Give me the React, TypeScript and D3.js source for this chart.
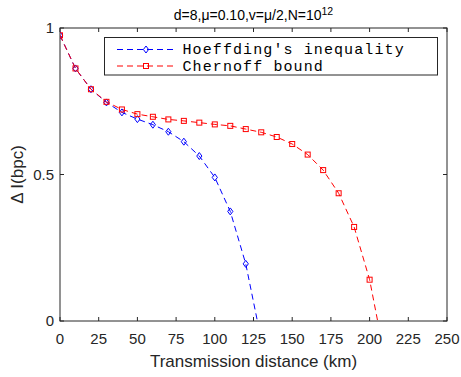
import { useEffect, useRef } from "react";
import * as d3 from "d3";

// distance (km) and ΔI (bpc)
const hoeffdingX = [0, 10, 20, 30, 40, 50, 60, 70, 80, 90, 100, 110, 120];
const hoeffdingY = [0.975, 0.862, 0.791, 0.746, 0.712, 0.689, 0.67, 0.646, 0.612, 0.563, 0.49, 0.374, 0.195];
const hoeffdingEnd = 127.5;

const chernoffX = [0, 10, 20, 30, 40, 50, 60, 70, 80, 90, 100, 110, 120, 130, 140, 150, 160, 170, 180, 190, 200];
const chernoffY = [0.975, 0.862, 0.791, 0.748, 0.722, 0.706, 0.697, 0.688, 0.683, 0.677, 0.671, 0.666, 0.655, 0.644, 0.628, 0.604, 0.568, 0.515, 0.436, 0.321, 0.141];
const chernoffEnd = 205.2;

const xTicks = [0, 25, 50, 75, 100, 125, 150, 175, 200, 225, 250];
const yTicks = [0, 0.5, 1];

const INK = "#262626";
const SANS = "'Liberation Sans', Arial, sans-serif";
const MONO = "'Liberation Mono', 'Courier New', monospace";

export default function App() {
  const ref = useRef<SVGSVGElement | null>(null);

  useEffect(() => {
    const svg = d3.select(ref.current);
    svg.selectAll("*").remove();
    const W = 461, H = 377;
    const m = { left: 60, right: 14, top: 28, bottom: 56 };
    const x = d3.scaleLinear().domain([0, 250]).range([m.left, W - m.right]);
    const y = d3.scaleLinear().domain([0, 1]).range([H - m.bottom, m.top]);

    svg.attr("viewBox", `0 0 ${W} ${H}`);
    svg.append("rect").attr("width", W).attr("height", H).attr("fill", "#fff");

    // title
    const t = svg.append("text")
      .attr("x", (m.left + W - m.right) / 2)
      .attr("y", 20)
      .attr("text-anchor", "middle")
      .attr("font-family", SANS)
      .attr("font-size", 14)
      .attr("fill", "#000");
    t.append("tspan").text("d=8,μ=0.10,v=μ/2,N=10");
    t.append("tspan").attr("dy", -5).attr("font-size", 10.5).text("12");

    const x0 = x(0), x1 = x(250), y0 = y(0), y1 = y(1);
    const tick = 4;
    const ax = svg.append("g").attr("stroke", INK).attr("stroke-width", 1).attr("fill", "none");
    ax.append("rect").attr("x", x0).attr("y", y1).attr("width", x1 - x0).attr("height", y0 - y1);
    xTicks.forEach((v) => {
      ax.append("line").attr("x1", x(v)).attr("x2", x(v)).attr("y1", y0).attr("y2", y0 - tick);
      ax.append("line").attr("x1", x(v)).attr("x2", x(v)).attr("y1", y1).attr("y2", y1 + tick);
    });
    yTicks.forEach((v) => {
      ax.append("line").attr("x1", x0).attr("x2", x0 + tick).attr("y1", y(v)).attr("y2", y(v));
      ax.append("line").attr("x1", x1).attr("x2", x1 - tick).attr("y1", y(v)).attr("y2", y(v));
    });

    svg.append("g").selectAll("text").data(xTicks).join("text")
      .attr("x", (d) => x(d)).attr("y", y0 + 23)
      .attr("text-anchor", "middle")
      .attr("font-family", SANS).attr("font-size", 15).attr("fill", INK)
      .text((d) => String(d));
    svg.append("g").selectAll("text").data(yTicks).join("text")
      .attr("x", x0 - 6).attr("y", (d) => y(d) + 5)
      .attr("text-anchor", "end")
      .attr("font-family", SANS).attr("font-size", 15).attr("fill", INK)
      .text((d) => String(d));

    svg.append("text")
      .attr("x", (x0 + x1) / 2).attr("y", y0 + 46)
      .attr("text-anchor", "middle")
      .attr("font-family", SANS).attr("font-size", 17).attr("fill", INK)
      .text("Transmission distance (km)");
    svg.append("text")
      .attr("transform", `translate(23,${(y0 + y1) / 2}) rotate(-90)`)
      .attr("text-anchor", "middle")
      .attr("font-family", SANS).attr("font-size", 17).attr("fill", INK)
      .text("Δ I(bpc)");

    svg.append("clipPath").attr("id", "plotclip")
      .append("rect").attr("x", x0).attr("y", y1 - 10).attr("width", x1 - x0).attr("height", y0 - y1 + 10);

    const line = d3.line<[number, number]>().x((d) => x(d[0])).y((d) => y(d[1]));
    const plot = svg.append("g").attr("clip-path", "url(#plotclip)");

    const hPts: [number, number][] = hoeffdingX.map((v, i) => [v, hoeffdingY[i]]);
    const cPts: [number, number][] = chernoffX.map((v, i) => [v, chernoffY[i]]);

    plot.append("path").attr("d", line([...hPts, [hoeffdingEnd, 0]]))
      .attr("fill", "none").attr("stroke", "#0000ff").attr("stroke-width", 1)
      .attr("stroke-dasharray", "6,4");
    plot.append("path").attr("d", line([...cPts, [chernoffEnd, 0]]))
      .attr("fill", "none").attr("stroke", "#ff0000").attr("stroke-width", 1)
      .attr("stroke-dasharray", "6,4");

    const diamond = (g: d3.Selection<SVGGElement, unknown, null, undefined>, cx: number, cy: number) =>
      g.append("path")
        .attr("d", `M${cx},${cy - 3.5}L${cx + 2.6},${cy}L${cx},${cy + 3.5}L${cx - 2.6},${cy}Z`)
        .attr("fill", "none").attr("stroke", "#0000ff").attr("stroke-width", 1);
    const square = (g: d3.Selection<SVGGElement, unknown, null, undefined>, cx: number, cy: number) =>
      g.append("rect").attr("x", cx - 2.5).attr("y", cy - 2.5).attr("width", 5).attr("height", 5)
        .attr("fill", "none").attr("stroke", "#ff0000").attr("stroke-width", 1);

    const hm = plot.append("g");
    hPts.forEach(([a, b]) => diamond(hm, x(a), y(b)));
    const cm = plot.append("g");
    cPts.forEach(([a, b]) => square(cm, x(a), y(b)));

    // legend
    const lg = svg.append("g");
    lg.append("rect").attr("x", 104.5).attr("y", 37.5).attr("width", 333).attr("height", 37.5)
      .attr("fill", "#fff").attr("stroke", INK).attr("stroke-width", 1);
    const rows = [
      { label: "Hoeffding's inequality", color: "#0000ff", mk: diamond, yy: 49.5 },
      { label: "Chernoff bound", color: "#ff0000", mk: square, yy: 66 },
    ];
    rows.forEach((r) => {
      lg.append("line").attr("x1", 117).attr("x2", 177).attr("y1", r.yy).attr("y2", r.yy)
        .attr("stroke", r.color).attr("stroke-width", 1).attr("stroke-dasharray", "6,4");
      r.mk(lg, 146, r.yy);
      lg.append("text").attr("x", 182.5).attr("y", r.yy + 4.5)
        .attr("font-family", MONO).attr("font-size", 15).attr("letter-spacing", 1.1).attr("fill", "#000")
        .text(r.label);
    });
  }, []);

  return <svg ref={ref} width={461} height={377} style={{ display: "block", position: "absolute", left: 0, top: 0 }} />;
}
